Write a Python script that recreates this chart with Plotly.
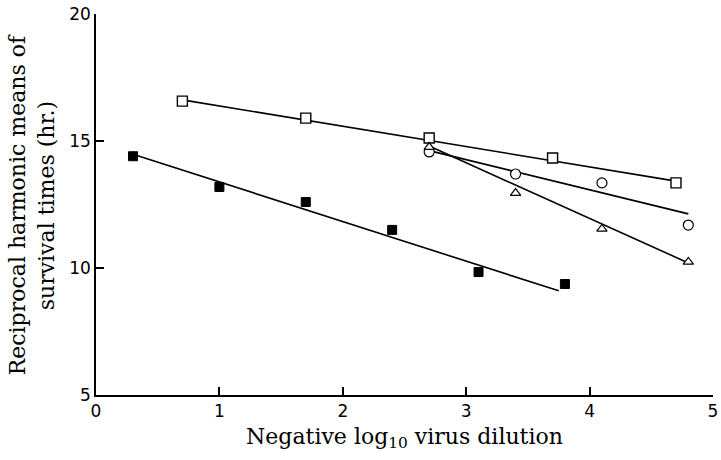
import plotly.graph_objects as go

# Data
open_sq_x = [0.7, 1.7, 2.7, 3.7, 4.7]
open_sq_y = [16.57, 15.9, 15.12, 14.33, 13.35]
open_sq_fit_x = [0.7, 4.7]
open_sq_fit_y = [16.62, 13.42]

filled_sq_x = [0.3, 1.0, 1.7, 2.4, 3.1, 3.8]
filled_sq_y = [14.4, 13.19, 12.6, 11.5, 9.84, 9.37]
filled_sq_fit_x = [0.3, 3.75]
filled_sq_fit_y = [14.48, 9.1]

circle_x = [2.7, 3.4, 4.1, 4.8]
circle_y = [14.57, 13.7, 13.35, 11.69]
circle_fit_x = [2.7, 4.8]
circle_fit_y = [14.62, 12.13]

tri_x = [2.7, 3.4, 4.1, 4.8]
tri_y = [14.76, 12.95, 11.54, 10.24]
tri_fit_x = [2.7, 4.8]
tri_fit_y = [14.8, 10.2]

x_ticks = [0, 1, 2, 3, 4, 5]
y_ticks = [5, 10, 15, 20]

fig = go.Figure()

line_style = dict(color="black", width=1.6)
for fx, fy in [(open_sq_fit_x, open_sq_fit_y), (filled_sq_fit_x, filled_sq_fit_y),
               (circle_fit_x, circle_fit_y), (tri_fit_x, tri_fit_y)]:
    fig.add_trace(go.Scatter(x=fx, y=fy, mode="lines", line=line_style,
                             showlegend=False, hoverinfo="skip", cliponaxis=False))

fig.add_trace(go.Scatter(x=open_sq_x, y=open_sq_y, mode="markers", cliponaxis=False,
                         marker=dict(symbol="square", size=10, color="white",
                                     line=dict(color="black", width=1.4)), showlegend=False))
fig.add_trace(go.Scatter(x=filled_sq_x, y=filled_sq_y, mode="markers", cliponaxis=False,
                         marker=dict(symbol="square", size=9, color="black",
                                     line=dict(color="black", width=1)), showlegend=False))
fig.add_trace(go.Scatter(x=circle_x, y=circle_y, mode="markers", cliponaxis=False,
                         marker=dict(symbol="circle", size=10, color="white",
                                     line=dict(color="black", width=1.2)), showlegend=False))
fig.add_trace(go.Scatter(x=tri_x, y=tri_y, mode="markers", cliponaxis=False,
                         marker=dict(symbol="triangle-up", size=9, color="white",
                                     line=dict(color="black", width=1.2)), showlegend=False))

fig.update_layout(
    width=721, height=460,
    margin=dict(l=96, r=8, t=14, b=65),
    plot_bgcolor="white", paper_bgcolor="white",
    xaxis=dict(range=[0, 5], tickvals=x_ticks, ticks="inside", ticklen=8, tickwidth=1.6,
               tickcolor="black", showline=True, linecolor="black", linewidth=1.6,
               showgrid=False, zeroline=False, automargin=False,
               tickfont=dict(family="DejaVu Sans", size=17, color="black"),
               title=dict(text="Negative log<sub>10</sub> virus dilution",
                          font=dict(family="DejaVu Serif", size=22, color="black"),
                          standoff=8)),
    yaxis=dict(range=[5, 20], tickvals=y_ticks, ticks="inside", ticklen=8, tickwidth=1.6,
               tickcolor="black", showline=True, linecolor="black", linewidth=1.6,
               showgrid=False, zeroline=False, automargin=False,
               tickfont=dict(family="DejaVu Sans", size=17, color="black")),
    annotations=[dict(text="Reciprocal harmonic means of<br>survival times (hr.)",
                      xref="paper", yref="paper", x=-0.104, y=0.5, xanchor="center",
                      yanchor="middle", textangle=-90, showarrow=False,
                      font=dict(family="DejaVu Serif", size=22, color="black"))],
)

fig.write_html("out.html")
